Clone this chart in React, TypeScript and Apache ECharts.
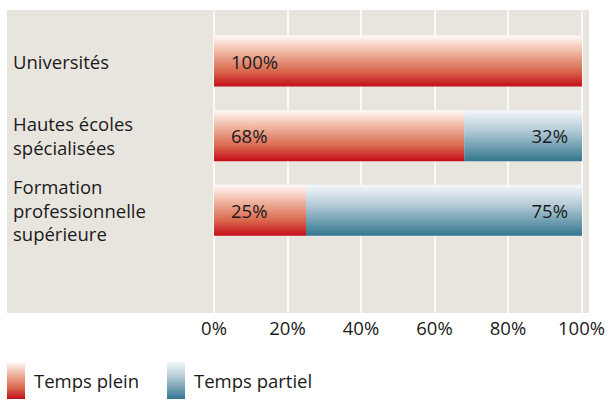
import React, { useEffect, useRef } from "react";
import * as echarts from "echarts";

const categories = ["Universités", "Hautes écoles\nspécialisées", "Formation\nprofessionnelle\nsupérieure"];
const tempsPlein = [100, 68, 25];
const tempsPartiel = [0, 32, 75];
const seriesNames = ["Temps plein", "Temps partiel"];
const xTicks = [0, 20, 40, 60, 80, 100];

const FONT = "'Open Sans', 'Noto Sans', sans-serif";
const FS = 18.5;

export default function App() {
  const ref = useRef<HTMLDivElement>(null);
  useEffect(() => {
    if (!ref.current) return;
    const chart = echarts.init(ref.current, null, { renderer: "svg" });
    const red = new echarts.graphic.LinearGradient(0, 0, 0, 1, [
      { offset: 0, color: "#fefaf8" },
      { offset: 0.3, color: "#f1bba8" },
      { offset: 0.7, color: "#d9684e" },
      { offset: 1, color: "#c40d19" },
    ]);
    const blue = new echarts.graphic.LinearGradient(0, 0, 0, 1, [
      { offset: 0, color: "#f5f8fb" },
      { offset: 0.4, color: "#b4cbd7" },
      { offset: 1, color: "#33768f" },
    ]);
    chart.setOption({
      animation: false,
      textStyle: { fontFamily: FONT },
      graphic: [
        {
          type: "rect",
          z: -10,
          shape: { x: 7, y: 10, width: 582, height: 303 },
          style: { fill: "#e8e5df" },
          silent: true,
        },
      ],
      grid: [
        { left: 214, right: 26, top: 10, bottom: 90 },
        { left: 214, right: 26, top: 23.75, bottom: 155.5 },
      ],
      legend: {
        left: 7,
        top: 362,
        padding: 0,
        icon: "rect",
        itemWidth: 18,
        itemHeight: 37,
        itemGap: 28,
        textStyle: { fontSize: FS, color: "#1a1a1a", fontFamily: FONT, padding: [0, 0, 0, 4] },
        data: seriesNames,
      },
      xAxis: [
        {
          gridIndex: 0,
          type: "value",
          min: xTicks[0],
          max: xTicks[xTicks.length - 1],
          interval: 20,
          axisLine: { show: false },
          axisTick: { show: false },
          splitLine: { show: true, lineStyle: { color: "#ffffff", width: 1.5 } },
          axisLabel: { formatter: "{value}%", fontSize: FS, color: "#1a1a1a", margin: 5, fontFamily: FONT },
        },
        {
          gridIndex: 1,
          type: "value",
          min: 0,
          max: 100,
          show: false,
          splitLine: { show: false },
        },
      ],
      yAxis: [
        {
          gridIndex: 0,
          type: "category",
          data: [""],
          show: false,
        },
        {
          gridIndex: 1,
          type: "category",
          inverse: true,
          data: categories,
          axisLine: { show: false },
          axisTick: { show: false },
          splitLine: { show: false },
          axisLabel: {
            align: "left",
            margin: 201,
            fontSize: FS,
            lineHeight: 23.5,
            color: "#1a1a1a",
            fontFamily: FONT,
          },
        },
      ],
      series: [
        {
          name: seriesNames[0],
          type: "bar",
          xAxisIndex: 1,
          yAxisIndex: 1,
          stack: "total",
          barWidth: 51,
          data: tempsPlein,
          itemStyle: { color: red },
          label: {
            show: true,
            position: "insideLeft",
            distance: 17,
            formatter: "{c}%",
            fontSize: FS,
            color: "#1a1a1a",
            fontFamily: FONT,
          },
        },
        {
          name: seriesNames[1],
          type: "bar",
          xAxisIndex: 1,
          yAxisIndex: 1,
          stack: "total",
          barWidth: 51,
          data: tempsPartiel,
          itemStyle: { color: blue },
          label: {
            show: true,
            position: "insideRight",
            distance: 14,
            formatter: (p: any) => (p.value > 0 ? p.value + "%" : ""),
            fontSize: FS,
            color: "#1a1a1a",
            fontFamily: FONT,
          },
        },
      ],
    });
    return () => chart.dispose();
  }, []);
  return <div ref={ref} style={{ width: 608, height: 403, position: "absolute", left: 0, top: 0 }} />;
}
